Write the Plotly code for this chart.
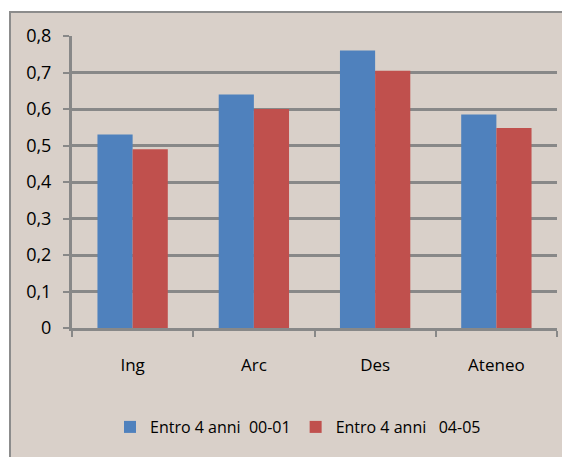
import plotly.graph_objects as go

categories = ["Ing", "Arc", "Des", "Ateneo"]
series_names = ["Entro 4 anni  00-01", "Entro 4 anni   04-05"]
values_00_01 = [0.53, 0.64, 0.76, 0.585]
values_04_05 = [0.49, 0.60, 0.705, 0.548]
y_ticks = [0, 0.1, 0.2, 0.3, 0.4, 0.5, 0.6, 0.7, 0.8]
y_tick_labels = ["0", "0,1", "0,2", "0,3", "0,4", "0,5", "0,6", "0,7", "0,8"]

BG = "#D9D0C9"
GRID = "#888888"
FONT = "Open Sans"

fig = go.Figure()
fig.add_trace(go.Bar(x=categories, y=values_00_01, name=series_names[0],
                     marker=dict(color="#4F81BD", line=dict(width=0))))
fig.add_trace(go.Bar(x=categories, y=values_04_05, name=series_names[1],
                     marker=dict(color="#C0504D", line=dict(width=0))))

OFF = 8  # page body margin
W, H = 570 - OFF, 457 - OFF
L, T = 72 - OFF, 36 - OFF
R = W - (557 - OFF)
B = H - (328 - OFF)
pw, ph = W - L - R, H - T - B

def px_x(p):
    return (p - OFF - L) / pw

def px_y(p):
    return (H - B - (p - OFF)) / ph

fig.add_shape(type="rect", xref="paper", yref="paper",
              x0=px_x(10), x1=px_x(590), y0=px_y(480), y1=px_y(12),
              fillcolor=BG, line=dict(color="#8C8C8C", width=2), layer="below")

fig.update_layout(
    width=W, height=H,
    margin=dict(l=L, r=R, t=T, b=B),
    paper_bgcolor="white",
    plot_bgcolor=BG,
    barmode="group",
    bargap=0.42,
    bargroupgap=0,
    font=dict(family=FONT, size=17, color="#000000"),
    showlegend=True,
    legend=dict(orientation="h", x=px_x(298), xanchor="center", y=px_y(427), yanchor="middle",
                font=dict(family=FONT, size=16), bgcolor="rgba(0,0,0,0)",
                itemwidth=30, traceorder="normal"),
    xaxis=dict(showline=True, linecolor=GRID, linewidth=3, ticks="outside",
               tickson="boundaries", ticklen=6, tickwidth=2, tickcolor=GRID,
               showgrid=False, ticklabelstandoff=20, fixedrange=True,
               tickfont=dict(family=FONT, size=17)),
    yaxis=dict(range=[0, 0.8], tickvals=y_ticks, ticktext=y_tick_labels,
               showline=True, linecolor=GRID, linewidth=3, ticks="outside",
               ticklen=6, tickwidth=2, tickcolor=GRID,
               showgrid=True, gridcolor=GRID, gridwidth=3, zeroline=False,
               ticklabelstandoff=8, fixedrange=True,
               tickfont=dict(family=FONT, size=18)),
)

fig.write_html("out.html")
